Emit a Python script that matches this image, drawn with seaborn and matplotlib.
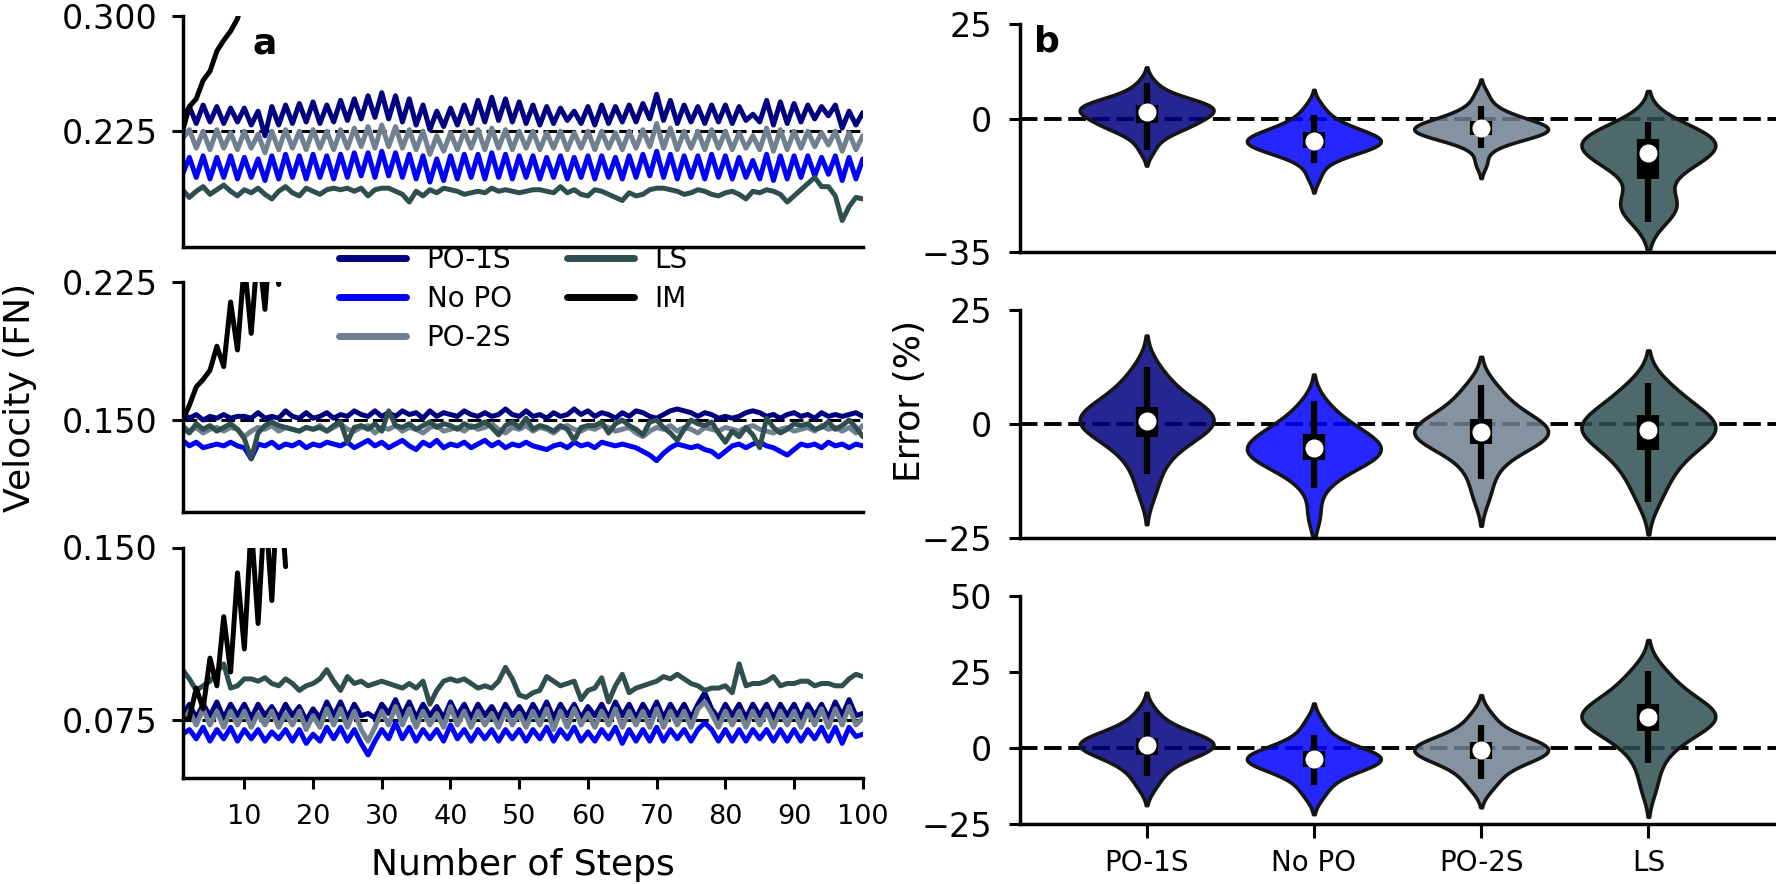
import numpy as np
import pandas as pd
import matplotlib
matplotlib.use("Agg")
import matplotlib.pyplot as plt
from matplotlib.lines import Line2D
import seaborn as sns

# ---------------- data ----------------
methods = ["PO-1S", "No PO", "PO-2S", "LS"]
line_methods = ["PO-1S", "No PO", "PO-2S", "LS", "IM"]
palette = {"PO-1S": "#000080", "No PO": "#0000ff", "PO-2S": "#708090",
           "LS": "#2f4f4f", "IM": "#000000"}

steps = list(range(1, 101))
im_steps = list(range(1, 17))
step_ticks = [10, 20, 30, 40, 50, 60, 70, 80, 90, 100]

# panel a, top (target 0.225)
p1_po1s = [0.233,0.241,0.230,0.242,0.231,0.241,0.230,0.240,0.231,0.240,
           0.229,0.238,0.222,0.241,0.229,0.242,0.230,0.243,0.231,0.244,
           0.230,0.242,0.231,0.245,0.232,0.246,0.233,0.248,0.234,0.250,
           0.233,0.248,0.231,0.246,0.229,0.242,0.226,0.238,0.228,0.240,
           0.229,0.242,0.230,0.245,0.231,0.247,0.232,0.246,0.231,0.244,
           0.230,0.242,0.229,0.241,0.230,0.240,0.232,0.238,0.230,0.241,
           0.229,0.242,0.230,0.241,0.231,0.242,0.231,0.243,0.233,0.249,
           0.232,0.245,0.230,0.242,0.231,0.241,0.230,0.242,0.231,0.242,
           0.230,0.241,0.232,0.236,0.231,0.245,0.229,0.244,0.230,0.243,
           0.231,0.242,0.233,0.241,0.235,0.242,0.227,0.238,0.229,0.237]
p1_nopo = [0.197,0.208,0.195,0.209,0.194,0.208,0.195,0.209,0.194,0.208,
           0.195,0.207,0.193,0.209,0.194,0.210,0.195,0.209,0.194,0.210,
           0.195,0.209,0.194,0.210,0.195,0.211,0.196,0.211,0.195,0.212,
           0.196,0.211,0.195,0.210,0.194,0.209,0.192,0.207,0.193,0.209,
           0.194,0.210,0.195,0.210,0.194,0.211,0.195,0.210,0.194,0.209,
           0.195,0.209,0.194,0.208,0.195,0.209,0.194,0.208,0.195,0.209,
           0.194,0.209,0.195,0.208,0.194,0.209,0.195,0.210,0.196,0.212,
           0.195,0.210,0.194,0.209,0.195,0.209,0.194,0.210,0.195,0.209,
           0.194,0.208,0.195,0.206,0.194,0.210,0.193,0.209,0.194,0.209,
           0.195,0.209,0.196,0.208,0.197,0.209,0.193,0.208,0.194,0.207]
p1_po2s = [0.220,0.226,0.214,0.225,0.213,0.226,0.214,0.224,0.213,0.225,
           0.214,0.223,0.211,0.225,0.213,0.226,0.214,0.225,0.213,0.226,
           0.214,0.225,0.213,0.226,0.214,0.227,0.215,0.228,0.214,0.229,
           0.215,0.228,0.214,0.226,0.213,0.225,0.210,0.222,0.212,0.224,
           0.213,0.225,0.214,0.226,0.213,0.227,0.214,0.226,0.213,0.225,
           0.214,0.225,0.213,0.224,0.214,0.225,0.213,0.224,0.214,0.225,
           0.213,0.225,0.214,0.224,0.213,0.225,0.214,0.226,0.215,0.230,
           0.214,0.227,0.213,0.225,0.214,0.225,0.213,0.226,0.214,0.225,
           0.213,0.224,0.214,0.222,0.213,0.227,0.212,0.226,0.213,0.225,
           0.214,0.225,0.215,0.224,0.216,0.225,0.212,0.224,0.213,0.222]
p1_ls = [0.187,0.182,0.186,0.189,0.184,0.187,0.190,0.186,0.183,0.187,
         0.185,0.188,0.184,0.181,0.186,0.189,0.185,0.183,0.188,0.186,
         0.184,0.187,0.188,0.187,0.188,0.186,0.188,0.183,0.187,0.188,
         0.188,0.186,0.184,0.179,0.186,0.183,0.187,0.185,0.188,0.187,
         0.186,0.184,0.185,0.186,0.185,0.188,0.186,0.187,0.186,0.185,
         0.186,0.187,0.187,0.186,0.185,0.189,0.185,0.187,0.184,0.183,
         0.187,0.186,0.184,0.182,0.180,0.185,0.183,0.184,0.187,0.188,
         0.188,0.187,0.186,0.184,0.185,0.187,0.186,0.184,0.183,0.185,
         0.186,0.184,0.181,0.186,0.185,0.187,0.186,0.184,0.179,0.183,
         0.187,0.191,0.195,0.189,0.189,0.183,0.167,0.176,0.182,0.181]
p1_im = [0.225,0.241,0.246,0.258,0.264,0.277,0.284,0.290,0.298,0.315,
         0.320,0.340,0.345,0.370,0.375,0.400]

# panel a, middle (target 0.150)
p2_po1s = [0.154,0.151,0.153,0.150,0.152,0.151,0.153,0.151,0.152,0.152,
           0.151,0.154,0.151,0.152,0.151,0.155,0.152,0.151,0.154,0.151,
           0.152,0.154,0.151,0.153,0.152,0.155,0.153,0.152,0.155,0.152,
           0.154,0.152,0.155,0.153,0.154,0.151,0.155,0.152,0.154,0.153,
           0.152,0.155,0.153,0.152,0.154,0.152,0.153,0.156,0.153,0.152,
           0.155,0.152,0.153,0.151,0.154,0.152,0.153,0.156,0.153,0.155,
           0.152,0.154,0.153,0.151,0.154,0.152,0.155,0.154,0.152,0.151,
           0.153,0.155,0.156,0.155,0.154,0.152,0.154,0.153,0.151,0.152,
           0.151,0.152,0.154,0.155,0.154,0.152,0.153,0.151,0.153,0.154,
           0.152,0.153,0.151,0.154,0.152,0.153,0.152,0.153,0.154,0.152]
p2_nopo = [0.139,0.136,0.138,0.135,0.136,0.137,0.136,0.138,0.136,0.135,
           0.129,0.137,0.136,0.138,0.135,0.137,0.136,0.138,0.135,0.137,
           0.136,0.138,0.137,0.136,0.138,0.135,0.137,0.139,0.136,0.138,
           0.135,0.137,0.139,0.136,0.134,0.138,0.136,0.139,0.135,0.137,
           0.136,0.138,0.135,0.137,0.139,0.136,0.138,0.135,0.137,0.136,
           0.138,0.136,0.135,0.134,0.136,0.137,0.135,0.138,0.136,0.137,
           0.135,0.138,0.137,0.136,0.137,0.136,0.135,0.133,0.131,0.128,
           0.132,0.135,0.137,0.136,0.135,0.136,0.134,0.133,0.130,0.133,
           0.136,0.137,0.135,0.137,0.138,0.136,0.135,0.133,0.131,0.134,
           0.137,0.136,0.137,0.135,0.138,0.136,0.137,0.135,0.137,0.136]
p2_po2s = [0.147,0.144,0.146,0.143,0.145,0.146,0.144,0.146,0.145,0.141,
           0.144,0.146,0.145,0.147,0.144,0.146,0.145,0.144,0.146,0.145,
           0.147,0.144,0.146,0.148,0.145,0.144,0.146,0.147,0.143,0.146,
           0.145,0.147,0.144,0.146,0.145,0.143,0.146,0.147,0.144,0.145,
           0.146,0.144,0.147,0.145,0.146,0.148,0.145,0.143,0.146,0.145,
           0.147,0.144,0.146,0.145,0.143,0.146,0.147,0.145,0.144,0.146,
           0.145,0.147,0.146,0.144,0.145,0.146,0.143,0.141,0.144,0.146,
           0.145,0.147,0.144,0.146,0.145,0.143,0.146,0.145,0.144,0.146,
           0.145,0.144,0.146,0.147,0.145,0.144,0.143,0.145,0.146,0.144,
           0.145,0.146,0.144,0.147,0.145,0.146,0.144,0.146,0.143,0.147]
p2_ls = [0.146,0.143,0.148,0.145,0.147,0.144,0.146,0.148,0.145,0.140,
         0.129,0.143,0.147,0.149,0.147,0.146,0.145,0.144,0.146,0.145,
         0.146,0.144,0.147,0.149,0.138,0.146,0.147,0.145,0.148,0.144,
         0.155,0.147,0.146,0.148,0.145,0.147,0.149,0.146,0.148,0.147,
         0.145,0.148,0.146,0.147,0.149,0.146,0.142,0.147,0.149,0.146,
         0.151,0.145,0.147,0.146,0.144,0.147,0.145,0.139,0.146,0.147,
         0.147,0.149,0.143,0.148,0.150,0.147,0.145,0.142,0.149,0.150,
         0.146,0.143,0.139,0.145,0.150,0.148,0.147,0.149,0.143,0.138,
         0.144,0.141,0.146,0.142,0.135,0.151,0.146,0.143,0.145,0.148,
         0.147,0.148,0.145,0.146,0.149,0.145,0.147,0.150,0.146,0.141]
p2_im = [0.150,0.158,0.168,0.172,0.177,0.190,0.179,0.214,0.188,0.235,
         0.197,0.245,0.210,0.260,0.2235,0.280]

# panel a, bottom (target 0.075)
p3_po1s = [0.077,0.082,0.076,0.082,0.077,0.083,0.076,0.082,0.077,0.082,
           0.076,0.082,0.077,0.081,0.076,0.082,0.077,0.081,0.075,0.080,
           0.076,0.083,0.077,0.083,0.076,0.082,0.077,0.078,0.076,0.082,
           0.078,0.084,0.077,0.083,0.076,0.082,0.077,0.081,0.076,0.083,
           0.077,0.082,0.076,0.082,0.077,0.081,0.076,0.082,0.077,0.081,
           0.076,0.082,0.077,0.083,0.076,0.082,0.077,0.082,0.076,0.081,
           0.077,0.082,0.076,0.083,0.077,0.082,0.076,0.082,0.077,0.083,
           0.076,0.082,0.077,0.082,0.076,0.082,0.087,0.080,0.076,0.082,
           0.077,0.082,0.076,0.082,0.077,0.082,0.076,0.082,0.077,0.082,
           0.076,0.082,0.077,0.082,0.076,0.083,0.077,0.084,0.077,0.078]
p3_nopo = [0.069,0.071,0.067,0.072,0.066,0.071,0.067,0.072,0.066,0.071,
           0.067,0.071,0.066,0.070,0.067,0.071,0.066,0.071,0.065,0.069,
           0.066,0.072,0.067,0.072,0.066,0.071,0.065,0.060,0.066,0.071,
           0.067,0.074,0.067,0.072,0.066,0.071,0.067,0.071,0.066,0.073,
           0.067,0.071,0.066,0.071,0.067,0.071,0.066,0.071,0.067,0.071,
           0.066,0.071,0.067,0.072,0.066,0.071,0.067,0.072,0.066,0.070,
           0.066,0.071,0.067,0.072,0.065,0.071,0.066,0.071,0.066,0.072,
           0.066,0.071,0.067,0.071,0.066,0.071,0.074,0.071,0.066,0.071,
           0.066,0.071,0.066,0.071,0.067,0.071,0.066,0.071,0.066,0.071,
           0.066,0.071,0.067,0.072,0.066,0.072,0.065,0.072,0.068,0.069]
p3_po2s = [0.074,0.079,0.073,0.080,0.073,0.079,0.072,0.079,0.073,0.079,
           0.072,0.078,0.073,0.079,0.072,0.078,0.073,0.079,0.071,0.077,
           0.072,0.080,0.073,0.080,0.072,0.079,0.071,0.066,0.072,0.079,
           0.073,0.081,0.073,0.080,0.072,0.079,0.073,0.078,0.072,0.081,
           0.073,0.079,0.072,0.079,0.073,0.078,0.072,0.079,0.073,0.078,
           0.072,0.079,0.073,0.080,0.071,0.079,0.072,0.080,0.073,0.078,
           0.072,0.079,0.073,0.080,0.072,0.079,0.073,0.079,0.072,0.080,
           0.072,0.079,0.073,0.079,0.072,0.080,0.083,0.078,0.072,0.079,
           0.073,0.079,0.072,0.079,0.073,0.079,0.072,0.079,0.073,0.079,
           0.072,0.079,0.073,0.080,0.072,0.080,0.073,0.081,0.073,0.076]
p3_ls = [0.097,0.093,0.088,0.090,0.092,0.096,0.0995,0.089,0.090,0.093,
         0.093,0.092,0.0935,0.091,0.090,0.093,0.091,0.088,0.090,0.091,
         0.093,0.097,0.092,0.088,0.094,0.091,0.092,0.090,0.091,0.092,
         0.091,0.090,0.089,0.091,0.089,0.092,0.082,0.088,0.092,0.093,
         0.092,0.093,0.091,0.089,0.090,0.089,0.092,0.098,0.093,0.086,
         0.085,0.087,0.088,0.094,0.092,0.090,0.091,0.092,0.084,0.088,
         0.089,0.0935,0.083,0.090,0.095,0.087,0.089,0.090,0.091,0.092,
         0.094,0.093,0.095,0.093,0.091,0.090,0.088,0.089,0.089,0.090,
         0.087,0.0995,0.090,0.091,0.091,0.092,0.094,0.090,0.091,0.091,
         0.092,0.092,0.090,0.091,0.091,0.090,0.090,0.093,0.095,0.094]
p3_im = [0.075,0.076,0.089,0.080,0.102,0.090,0.120,0.096,0.139,0.106,
         0.160,0.117,0.170,0.127,0.185,0.1417]

ref_speeds = [0.225, 0.150, 0.075]
vel_ylims = [(0.15, 0.30), (0.10, 0.225), (0.05, 0.15)]
vel_yticks = [[0.225, 0.300], [0.150, 0.225], [0.075, 0.150]]

# panel b: error (%) samples
e1 = {
    "PO-1S": [-8.0, -5.0, -3.5, -2.5, -1.8, -1.3, -1.0, -0.5, 0.2, 0.8, 1.3, 1.7,
              2.0, 2.4, 2.8, 3.1, 3.4, 3.7, 4.0, 4.4, 5.0, 5.8, 7.0, 9.5],
    "No PO": [-15.0, -11.5, -10.0, -9.0, -8.5, -8.0, -7.5, -7.0, -6.7, -6.4, -6.1, -5.8,
              -5.5, -5.2, -4.8, -4.4, -4.0, -3.5, -3.0, -2.4, -1.5, -0.5, 1.0, 3.5],
    "PO-2S": [-11.5, -7.5, -6.0, -5.2, -4.6, -4.2, -3.9, -3.6, -3.3, -3.0, -2.7, -2.4,
              -2.2, -1.9, -1.6, -1.2, -0.8, -0.3, 0.3, 1.0, 2.0, 3.5, 6.5],
    "LS": [-27.0, -24.5, -23.0, -22.2, -21.5, -20.5, -14.0, -13.0, -12.2, -11.0, -10.0,
           -9.2, -8.5, -7.8, -7.0, -6.4, -5.9, -5.4, -5.0, -4.6, -4.2, -3.6, -2.5, -0.8],
}
e2 = {
    "PO-1S": [-15.0, -11.0, -8.0, -6.0, -4.5, -3.2, -2.3, -1.5, -0.8, -0.2, 0.3, 0.6,
              1.0, 1.5, 2.1, 2.8, 3.5, 4.2, 5.2, 6.5, 8.0, 10.0, 12.5],
    "No PO": [-20.0, -14.0, -11.5, -10.0, -9.0, -8.2, -7.7, -7.2, -6.8, -6.4, -5.9, -5.3,
              -4.9, -4.4, -3.8, -3.2, -2.6, -1.9, -1.2, -0.3, 1.0, 2.6, 5.0],
    "PO-2S": [-16.0, -12.0, -9.0, -7.0, -5.6, -4.6, -3.9, -3.3, -2.8, -2.4, -2.0, -1.6,
              -1.2, -0.7, -0.1, 0.6, 1.3, 2.2, 3.3, 5.0, 7.0, 8.5],
    "LS": [-17.0, -13.5, -11.0, -9.0, -7.5, -6.0, -4.8, -3.8, -3.0, -2.2, -1.6, -1.0,
           -0.5, 0.0, 0.6, 1.3, 2.1, 3.0, 4.2, 5.8, 7.5, 9.0],
}
e3 = {
    "PO-1S": [-12.5, -9.0, -6.5, -4.8, -3.4, -2.3, -1.5, -0.8, -0.2, 0.4, 0.9, 1.3,
              1.7, 2.2, 2.8, 3.5, 4.3, 5.2, 6.5, 8.5, 12.0],
    "No PO": [-15.5, -12.0, -9.5, -7.8, -6.6, -5.8, -5.1, -4.5, -4.0, -3.6, -3.2, -2.7,
              -2.1, -1.4, -0.6, 0.4, 2.0, 4.5, 8.5],
    "PO-2S": [-13.0, -10.0, -7.5, -5.6, -4.2, -3.2, -2.4, -1.8, -1.3, -0.6, -0.3, 0.3,
              0.9, 1.6, 2.4, 3.4, 5.0, 7.5, 11.0],
    "LS": [-12.5, -5.0, -0.5, 2.5, 4.5, 6.0, 7.3, 8.4, 9.3, 10.0, 10.6, 11.2, 12.0,
           13.0, 14.2, 15.6, 17.5, 20.0, 23.0, 25.5],
}
err_ylims = [(-35, 25), (-25, 25), (-25, 50)]
err_yticks = [[-35, 0, 25], [-25, 0, 25], [-25, 0, 25, 50]]

vel_sets = [
    [p1_po1s, p1_nopo, p1_po2s, p1_ls, p1_im],
    [p2_po1s, p2_nopo, p2_po2s, p2_ls, p2_im],
    [p3_po1s, p3_nopo, p3_po2s, p3_ls, p3_im],
]
err_sets = [e1, e2, e3]

# ---------------- style ----------------
sns.set_style("ticks")
plt.rcParams["font.family"] = ["DejaVu Sans"]
plt.rcParams["axes.linewidth"] = 2.5
plt.rcParams["xtick.major.width"] = 2.2
plt.rcParams["ytick.major.width"] = 2.2
plt.rcParams["xtick.major.size"] = 8
plt.rcParams["ytick.major.size"] = 8
plt.rcParams["axes.edgecolor"] = "black"
plt.rcParams["text.color"] = "black"
plt.rcParams["axes.labelcolor"] = "black"
plt.rcParams["xtick.color"] = "black"
plt.rcParams["ytick.color"] = "black"

W, H = 1776, 884
fig = plt.figure(figsize=(W / 100, H / 100), dpi=100)

def rect(x0, y0, x1, y1):
    return [x0 / W, 1 - y1 / H, (x1 - x0) / W, (y1 - y0) / H]

left_rects = [rect(182.5, 15.7, 862.8, 246.7),
              rect(182.5, 281.7, 862.8, 512.3),
              rect(182.5, 547.5, 862.8, 778.0)]
right_rects = [rect(1019.5, 24.3, 1775.5, 252.3),
               rect(1019.5, 310.0, 1775.5, 538.3),
               rect(1019.5, 596.0, 1775.5, 824.3)]

# ---------------- panel a ----------------
for i, (r, series) in enumerate(zip(left_rects, vel_sets)):
    ax = fig.add_axes(r)
    rows = []
    for m, vals in zip(line_methods, series):
        xs = im_steps if m == "IM" else steps
        for s, v in zip(xs, vals):
            rows.append((m, s, v))
    df = pd.DataFrame(rows, columns=["method", "step", "velocity"])
    ax.axhline(ref_speeds[i], color="black", lw=2.2, ls=(0, (4.5, 1.7)), zorder=1)
    sns.lineplot(data=df, x="step", y="velocity", hue="method",
                 hue_order=line_methods, palette=palette, linewidth=3.6,
                 estimator=None, sort=False, legend=False, ax=ax, zorder=2)
    ax.set_xlim(1, 100)
    ax.set_ylim(*vel_ylims[i])
    ax.set_yticks(vel_yticks[i])
    ax.set_yticklabels([f"{t:.3f}" for t in vel_yticks[i]])
    ax.tick_params(axis="y", labelsize=24, pad=10)
    ax.set_xlabel("")
    ax.set_ylabel("")
    if i < 2:
        ax.tick_params(axis="x", bottom=False, labelbottom=False)
    else:
        ax.set_xticks(step_ticks)
        ax.tick_params(axis="x", labelsize=19.5, pad=11)
    sns.despine(ax=ax)

# ---------------- panel b ----------------
for i, (r, edict) in enumerate(zip(right_rects, err_sets)):
    ax = fig.add_axes(r)
    rows = [(m, v) for m in methods for v in edict[m]]
    df = pd.DataFrame(rows, columns=["method", "error"])
    zero_line = ax.axhline(0, color="black", lw=2.8, ls=(0, (4.5, 1.7)), zorder=0.5)
    sns.violinplot(data=df, x="method", y="error", hue="method", order=methods,
                   hue_order=methods, palette=palette, saturation=1,
                   density_norm="width", width=0.8, inner="box",
                   linewidth=2.6, linecolor="#151515",
                   inner_kws=dict(box_width=15, whis_width=5, marker="o"),
                   legend=False, ax=ax)
    for c in ax.collections:
        fc = c.get_facecolor()
        if len(fc):
            rgba = list(fc[0][:3]) + [0.85]
            c.set_facecolor(rgba)
            c.set_edgecolor("#151515")
            c.set_zorder(1)
    solid = []
    for ln in ax.lines:
        if ln is zero_line:
            continue
        if ln.get_marker() == "o":
            ln.set_markerfacecolor("white")
            ln.set_markeredgecolor("white")
            ln.set_markersize(12)
            ln.set_markeredgewidth(1)
            ln.set_zorder(5)
        else:
            solid.append(ln)
    for k, ln in enumerate(solid):
        ln.set_color("black")
        ln.set_solid_capstyle("butt")
        if k % 2 == 0:
            ln.set_linewidth(4.5)
            ln.set_zorder(3)
        else:
            ln.set_linewidth(16)
            ln.set_zorder(4)
    ax.set_xlim(-0.76, 3.76)
    ax.set_ylim(*err_ylims[i])
    ax.set_yticks(err_yticks[i])
    ax.set_yticklabels([("\u2212" + str(abs(t))) if t < 0 else str(t) for t in err_yticks[i]])
    ax.tick_params(axis="y", labelsize=24, pad=12)
    ax.set_xlabel("")
    ax.set_ylabel("")
    if i < 2:
        ax.tick_params(axis="x", bottom=False, labelbottom=False)
    else:
        ax.tick_params(axis="x", labelsize=20, pad=8, length=10)
    sns.despine(ax=ax)

# ---------------- labels & legend ----------------
fig.text(253 / W, 1 - 53 / H, "a", fontsize=26, fontweight="bold", ha="left", va="baseline")
fig.text(1034 / W, 1 - 52 / H, "b", fontsize=26, fontweight="bold", ha="left", va="baseline")
fig.text(20 / W, 1 - 397 / H, "Velocity (FN)", fontsize=26, rotation=90, ha="center", va="center")
fig.text(910 / W, 1 - 401 / H, "Error (%)", fontsize=26, rotation=90, ha="center", va="center")
fig.text(522.7 / W, 1 - 875 / H, "Number of Steps", fontsize=26, ha="center", va="baseline")

handles = [Line2D([], [], color=palette[m], lw=5) for m in line_methods]
fig.legend(handles, line_methods, loc="upper left",
           bbox_to_anchor=(339 / W, 1 - 246 / H), ncol=2, frameon=False,
           fontsize=20, handlelength=2.4, handletextpad=0.75,
           columnspacing=2.0, labelspacing=0.4, borderpad=0, borderaxespad=0)

fig.savefig("out.png", dpi=100)
